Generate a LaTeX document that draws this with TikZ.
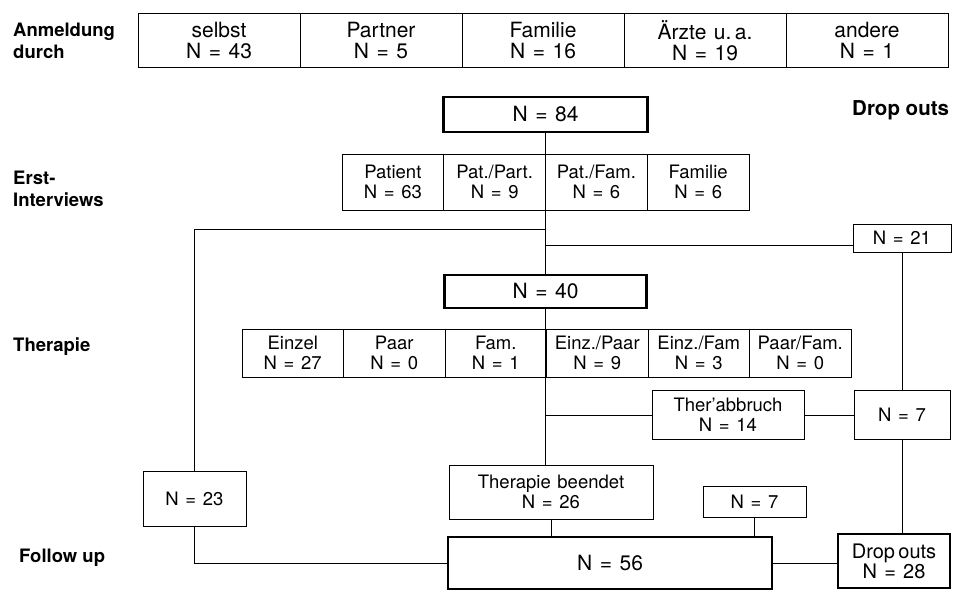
\documentclass[tikz,border=0pt]{standalone}
\usepackage{fontspec}
\setmainfont{TeX Gyre Heros}
\usetikzlibrary{positioning}
\newcommand{\widespace}{\spaceskip=.36em\relax}

\begin{document}
\begin{tikzpicture}[
  x=1pt, y=-1pt,
  node distance=0pt,
  cell/.style={rectangle, draw=black, line width=0.9pt, align=center, inner sep=0pt, outer sep=0pt, font=\fontsize{18.5}{20}\selectfont\widespace},
  topcell/.style={cell, minimum width=162pt, minimum height=54pt, font=\fontsize{21}{21}\selectfont\widespace},
  ecell/.style={cell, minimum width=101.75pt, minimum height=56pt},
  tcell/.style={cell, minimum width=101.5pt, minimum height=48pt},
  total/.style={cell, line width=2.2pt, font=\fontsize{21}{21}\selectfont\widespace},
  rowlabel/.style={anchor=west, align=left, inner sep=0pt, font=\bfseries\fontsize{18.5}{21.5}\selectfont},
  conn/.style={line width=0.9pt}
]
\useasboundingbox (0,0) rectangle (956,593);

% row labels
\node[rowlabel] (lAnm) at (13,41) {Anmeldung\\durch};
\node[rowlabel] (lErst) at (13,189) {Erst-\\Interviews};
\node[rowlabel] (lTher) at (13,347) {Therapie};
\node[rowlabel] (lFol) at (19,558) {Follow up};
\node[rowlabel, font=\bfseries\fontsize{20.5}{21.5}\selectfont] (lDrop) at (852,110) {Drop outs};

% Anmeldung
\node[topcell] (a1) at (219,40.5) {selbst\\N = 43};
\node[topcell, right=of a1] (a2) {Partner\\N = 5};
\node[topcell, right=of a2] (a3) {Familie\\N = 16};
\node[topcell, right=of a3] (a4) {Ärzte u.\,a.\\N = 19};
\node[topcell, right=of a4] (a5) {andere\\N = 1};

% Erstinterviews
\node[total, minimum width=204pt, minimum height=35pt] (n84) at (545.5,114.5) {N = 84};
\node[ecell] (e1) at (392.9,182) {Patient\\N = 63};
\node[ecell, right=of e1] (e2) {Pat./Part.\\N = 9};
\node[ecell, right=of e2] (e3) {Pat./Fam.\\N = 6};
\node[ecell, right=of e3] (e4) {Familie\\N = 6};
\node[cell, minimum width=98pt, minimum height=28pt] (n21) at (902,238) {N = 21};

% Therapie
\node[total, minimum width=202pt, minimum height=33pt] (n40) at (545.5,291.5) {N = 40};
\node[tcell] (t1) at (292.75,353) {Einzel\\N = 27};
\node[tcell, right=of t1] (t2) {Paar\\N = 0};
\node[tcell, right=of t2] (t3) {Fam.\\N = 1};
\node[tcell, right=of t3] (t4) {Einz./Paar\\N = 9};
\node[tcell, right=of t4] (t5) {Einz./Fam\\N = 3};
\node[tcell, right=of t5] (t6) {Paar/Fam.\\N = 0};
\node[cell, minimum width=152pt, minimum height=49pt] (abbr) at (728,415) {Ther'abbruch\\N = 14};
\node[cell, minimum width=96pt, minimum height=49pt] (n7r) at (902,415) {N = 7};

% Follow up
\node[cell, minimum width=103pt, minimum height=55pt] (n23) at (194.5,498.5) {N = 23};
\node[cell, minimum width=204pt, minimum height=54pt] (beendet) at (551,492) {Therapie beendet\\N = 26};
\node[cell, minimum width=103pt, minimum height=31pt] (n7m) at (754.5,501.5) {N = 7};
\node[total, minimum width=324pt, minimum height=52pt] (n56) at (610,563) {N = 56};
\node[total, minimum width=112pt, minimum height=54pt, font=\fontsize{20}{20}\selectfont\widespace] (drop) at (894,561) {Drop\,outs\\N = 28};

\coordinate (s1) at (545.5,229);
\coordinate (s2) at (545.5,245);
\coordinate (s3) at (545.5,415);

\draw[conn] (n84.south) -- (n40.north);
\draw[conn] (s1) -| (n23.north);
\draw[conn] (s2) -- (s2 -| n21.west);
\draw[conn] (n21.south) -- (n21.south |- n7r.north);
\draw[conn] (n7r.south) -- (n7r.south |- drop.north);
\draw[conn] (n40.south) -- (n40.south |- beendet.north);
\draw[conn] (s3) -- (abbr.west);
\draw[conn] (abbr.east) -- (n7r.west);
\draw[conn] (beendet.south) -- (beendet.south |- n56.north);
\draw[conn] (n7m.south) -- (n7m.south |- n56.north);
\draw[conn] (n23.south) |- (n56.west);
\draw[conn] (n56.east) -- (n56.east -| drop.west);
\end{tikzpicture}
\end{document}
